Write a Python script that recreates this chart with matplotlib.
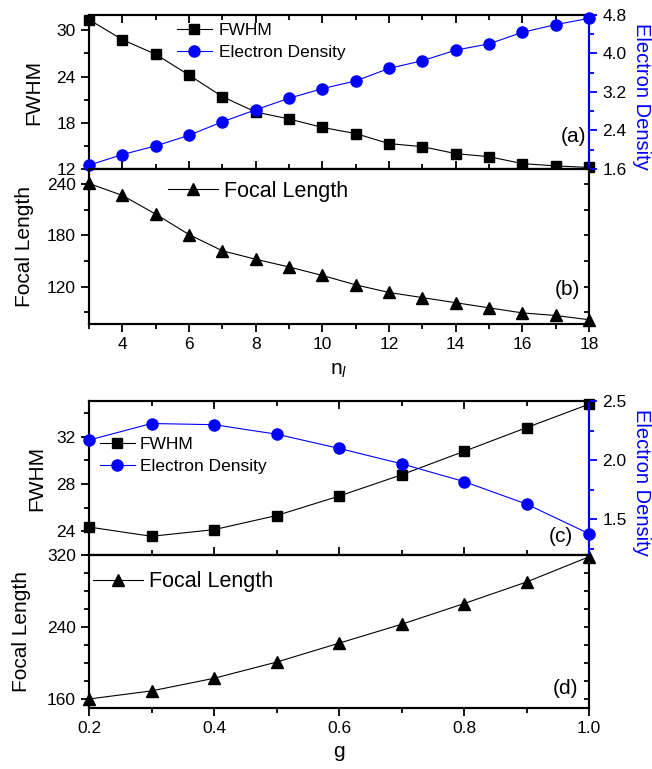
import matplotlib
matplotlib.use('Agg')
import matplotlib.pyplot as plt
from matplotlib.ticker import MultipleLocator
from matplotlib.lines import Line2D

plt.rcParams['font.family'] = ['Liberation Sans', 'DejaVu Sans']
plt.rcParams['mathtext.fontset'] = 'custom'
plt.rcParams['mathtext.rm'] = 'Liberation Sans'
plt.rcParams['mathtext.it'] = 'Liberation Sans:italic'

# data: top pair, x = n_l
n_l = [3, 4, 5, 6, 7, 8, 9, 10, 11, 12, 13, 14, 15, 16, 17, 18]
fwhm_n = [31.4, 28.8, 26.9, 24.2, 21.4, 19.4, 18.5, 17.4, 16.6, 15.3, 14.9, 14.0, 13.6, 12.7, 12.4, 12.2]
dens_n = [1.68, 1.90, 2.08, 2.30, 2.58, 2.83, 3.07, 3.27, 3.43, 3.69, 3.85, 4.07, 4.20, 4.44, 4.60, 4.73]
focal_n = [241, 227, 205, 181, 162, 152, 143, 133, 122, 113, 107, 101, 95, 89, 86, 81]

# data: bottom pair, x = g
g = [0.2, 0.3, 0.4, 0.5, 0.6, 0.7, 0.8, 0.9, 1.0]
fwhm_g = [24.36, 23.58, 24.14, 25.33, 26.97, 28.77, 30.75, 32.75, 34.73]
dens_g = [2.17, 2.31, 2.30, 2.22, 2.10, 1.97, 1.82, 1.63, 1.38]
focal_g = [160, 169, 183, 201, 222, 243, 266, 290, 318]

W, H = 652, 769
fig = plt.figure(figsize=(W / 100, H / 100), dpi=100)


def box(l, t, r, b):
    return [l / W, 1 - b / H, (r - l) / W, (b - t) / H]


ax_a = fig.add_axes(box(89, 15, 589, 169))
ax_b = fig.add_axes(box(89, 169, 589, 324), sharex=ax_a)
ax_c = fig.add_axes(box(89, 401, 589, 555))
ax_d = fig.add_axes(box(89, 555, 589, 708), sharex=ax_c)
ax_a2 = ax_a.twinx()
ax_c2 = ax_c.twinx()
ax_b2 = ax_b.twinx()  # only for the inward ticks on the right
ax_d2 = ax_d.twinx()

lw = 0.8
sq = dict(color='black', marker='s', ms=7, lw=lw)
ci = dict(color='blue', marker='o', ms=8, lw=lw)
tr = dict(color='black', marker='^', ms=9, lw=lw)

ax_a.plot(n_l, fwhm_n, clip_on=False, zorder=3, **sq)
ax_a2.plot(n_l, dens_n, clip_on=False, zorder=3, **ci)
ax_b.plot(n_l, focal_n, clip_on=False, zorder=3, **tr)
ax_c.plot(g, fwhm_g, clip_on=False, zorder=3, **sq)
ax_c2.plot(g, dens_g, clip_on=False, zorder=3, **ci)
ax_d.plot(g, focal_g, clip_on=False, zorder=3, **tr)

ax_a.set_xlim(3, 18)
ax_a.set_ylim(12, 32)
ax_a2.set_ylim(1.6, 4.8)
ax_b.set_ylim(76, 258)
ax_b2.set_ylim(76, 258)
ax_c.set_xlim(0.2, 1.0)
ax_c.set_ylim(22, 35)
ax_c2.set_ylim(1.2, 2.5)
ax_d.set_ylim(150, 320)
ax_d2.set_ylim(150, 320)

ax_a.xaxis.set_major_locator(MultipleLocator(2))
ax_a.xaxis.set_minor_locator(MultipleLocator(1))
ax_a.yaxis.set_major_locator(MultipleLocator(6))
ax_a.yaxis.set_minor_locator(MultipleLocator(3))
ax_a2.yaxis.set_major_locator(MultipleLocator(0.8))
ax_a2.yaxis.set_minor_locator(MultipleLocator(0.4))
ax_c.xaxis.set_major_locator(MultipleLocator(0.2))
ax_c.xaxis.set_minor_locator(MultipleLocator(0.1))
ax_c2.yaxis.set_major_locator(MultipleLocator(0.5))
ax_c2.yaxis.set_minor_locator(MultipleLocator(0.25))

ax_b.set_yticks([120, 180, 240])
ax_b.yaxis.set_minor_locator(MultipleLocator(30))
ax_b2.yaxis.set_major_locator(MultipleLocator(30))
ax_c.set_yticks([24, 28, 32])
ax_c.yaxis.set_minor_locator(MultipleLocator(2))
ax_d.set_yticks([160, 240, 320])
ax_d.yaxis.set_minor_locator(MultipleLocator(20))
ax_d2.yaxis.set_major_locator(MultipleLocator(20))

tick_fs = 12.5
for ax in (ax_a, ax_b, ax_c, ax_d, ax_a2, ax_c2, ax_b2, ax_d2):
    for sp in ax.spines.values():
        sp.set_linewidth(1.5)
    ax.tick_params(which='major', length=6, width=1.3, labelsize=tick_fs)
    ax.tick_params(which='minor', length=3.5, width=1.3)

for top_ax in (ax_a, ax_c):
    top_ax.tick_params(axis='x', which='both', direction='in', top=True, bottom=True,
                       labelbottom=False)
    top_ax.tick_params(axis='y', which='both', direction='out', left=True, right=False)

for bot_ax in (ax_b, ax_d):
    bot_ax.tick_params(axis='x', which='both', direction='out', top=False, bottom=True)
    bot_ax.tick_params(axis='y', which='both', direction='out', left=True, right=False)

for rt in (ax_b2, ax_d2):
    rt.tick_params(axis='y', which='major', direction='in', length=3.5, labelright=False)

for tw in (ax_a2, ax_c2):
    tw.spines['right'].set_color('blue')
    tw.tick_params(axis='y', which='both', direction='out', colors='blue',
                   labelcolor='black')
    tw.set_ylabel('Electron Density', color='blue', fontsize=14.5, rotation=270,
                  va='center')
    tw.yaxis.set_label_coords(1.104, 0.47)

ax_a.set_ylabel('FWHM', fontsize=15, va='center')
ax_a.yaxis.set_label_coords(-0.11, 0.5)
ax_b.set_ylabel('Focal Length', fontsize=15, va='center')
ax_b.yaxis.set_label_coords(-0.13, 0.5)
ax_c.set_ylabel('FWHM', fontsize=15, va='center')
ax_c.yaxis.set_label_coords(-0.104, 0.5)
ax_d.set_ylabel('Focal Length', fontsize=15, va='center')
ax_d.yaxis.set_label_coords(-0.134, 0.5)
ax_b.set_xlabel('n$_{\\mathit{l}}$', fontsize=15, labelpad=6)
ax_d.set_xlabel('g', fontsize=15, labelpad=4)

# legends
h_sq = Line2D([], [], **sq)
h_ci = Line2D([], [], **ci)
h_tr = Line2D([], [], **tr)
common = dict(frameon=False, borderpad=0, borderaxespad=0, loc='center left')
ax_a2.legend([h_sq, h_ci], ['FWHM', 'Electron Density'], bbox_to_anchor=(0.176, 0.828),
             fontsize=12.5, labelspacing=0.35, handletextpad=0.4, **common)
ax_b.legend([h_tr], ['Focal Length'], bbox_to_anchor=(0.158, 0.858),
            fontsize=15.5, handlelength=2.3, handletextpad=0.3, **common)
ax_c2.legend([h_sq, h_ci], ['FWHM', 'Electron Density'], bbox_to_anchor=(0.022, 0.646),
             fontsize=12.5, labelspacing=0.35, handletextpad=0.3, **common)
ax_d.legend([h_tr], ['Focal Length'], bbox_to_anchor=(0.008, 0.825),
            fontsize=15.5, handlelength=2.3, handletextpad=0.3, **common)

for ax, lab, x, y in ((ax_a2, '(a)', 0.995, 0.21), (ax_b2, '(b)', 0.982, 0.22),
                      (ax_c2, '(c)', 0.968, 0.12), (ax_d2, '(d)', 0.978, 0.13)):
    ax.text(x, y, lab, transform=ax.transAxes, ha='right', va='center', fontsize=15)

fig.savefig('out.png', dpi=100)
